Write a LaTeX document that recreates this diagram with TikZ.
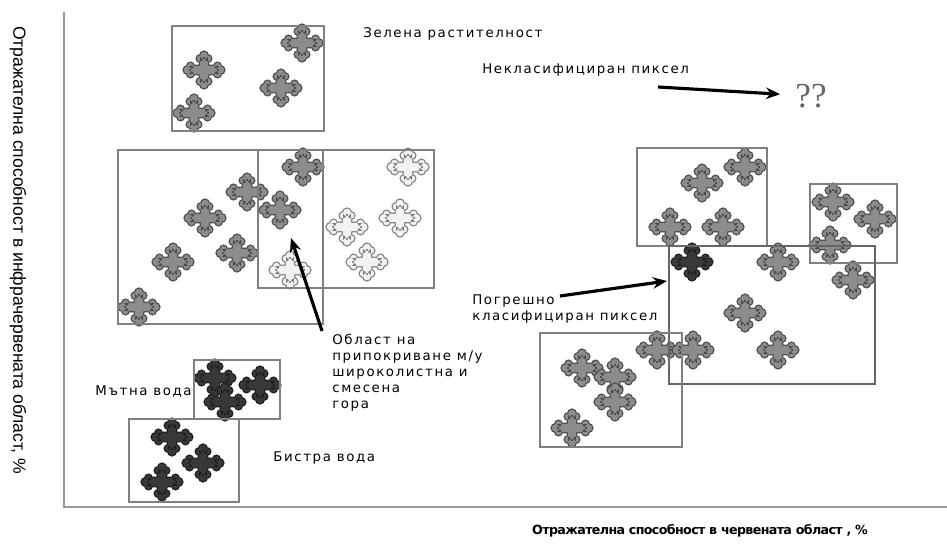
\documentclass[tikz,border=0pt]{standalone}
\usepackage{fontspec}
\setmainfont{DejaVu Sans}
\newfontfamily\lblfont[LetterSpace=12]{DejaVu Sans}
\newfontfamily\xaxfont[LetterSpace=-5]{DejaVu Sans}
\newfontfamily\axfont{Liberation Sans}
\newfontfamily\qfont{Liberation Serif}
\usetikzlibrary{arrows.meta}

\definecolor{framegray}{gray}{0.5}
\definecolor{axisgray}{gray}{0.6}
\definecolor{midfill}{gray}{0.55}
\definecolor{midedge}{gray}{0.3}
\definecolor{palefill}{gray}{0.95}
\definecolor{paleedge}{gray}{0.5}
\definecolor{darkfill}{gray}{0.22}
\definecolor{darkedge}{gray}{0.12}

% cross with trefoil ends (in picture units)
\newcommand\fleury{(-15,-4.2) rectangle (15,4.2) (-4.2,-13) rectangle (4.2,13)
	(16.5,0) circle (3.8) (13.5,-4) circle (3.2) (13.5,4) circle (3.2)
	(-16.5,0) circle (3.8) (-13.5,-4) circle (3.2) (-13.5,4) circle (3.2)
	(0,-14.5) circle (3.8) (-4,-11.5) circle (3.2) (4,-11.5) circle (3.2)
	(0,14.5) circle (3.8) (-4,11.5) circle (3.2) (4,11.5) circle (3.2)}

\tikzset{
	pics/cross/.style n args={3}{code={
		\filldraw[fill=#2, draw=#2, line width=#3] \fleury;
		\fill[#1] \fleury;
	}},
	box/.style={draw=framegray, line width=1.2pt},
	lbl/.style={font=\lblfont\fontsize{7.6}{9}\selectfont, inner sep=0pt, align=left},
	arr/.style={-{Stealth[length=8pt, width=6.5pt]}, line width=1.8pt},
}

\begin{document}
\begin{tikzpicture}[x=0.02cm, y=-0.02cm]
	\useasboundingbox (0,0) rectangle (947,547);
	% axes
	\draw[axisgray, line width=1.4pt] (64,12) -- (64,507) -- (947,507);
	\node[font=\axfont\fontsize{10}{12}\selectfont, rotate=-90, inner sep=0pt] (ylab) at (18,250) {Отражателна способност в инфрачервената област, \%};
	\node[font=\xaxfont\bfseries\fontsize{7.2}{8}\selectfont, inner sep=0pt, anchor=base] (xlab) at (700,534) {Отражателна способност в червената област , \%};

	% classes
	\foreach \x/\y in {302/43, 204/70, 281/88, 194/113, 303/167, 247/192, 280/210, 205/218, 237/253, 173/262, 139/307,
		745/167, 702/183, 670/227, 723/227, 833/202, 875/219, 830/245, 778/262, 853/280, 745/313,
		657/350, 693/350, 778/350, 582/368, 615/377, 615/402, 572/428}
		\pic at (\x,\y) {cross={midfill}{midedge}{1.4pt}};
	\foreach \x/\y in {408/167, 347/227, 400/218, 367/262, 290/270}
		\pic at (\x,\y) {cross={palefill}{paleedge}{1.4pt}};
	\foreach \x/\y in {692/262, 215/378, 260/385, 225/402, 172/437, 203/463, 162/482}
		\pic at (\x,\y) {cross={darkfill}{darkedge}{1.4pt}};

	\draw[box] (172,26) rectangle (324,131);
	\draw[box] (118,150) rectangle (323,324);
	\draw[box] (258,150) rectangle (434,288);
	\draw[box] (637,148) rectangle (767,246);
	\draw[box] (810,184) rectangle (897,263);
	\draw[box, draw=gray!80!black, line width=1.6pt] (669,246) rectangle (875,384);
	\draw[box] (540,333) rectangle (682,447);
	\draw[box] (194,360) rectangle (280,419);
	\draw[box] (129,419) rectangle (239,502);

	% labels
	\node[lbl, anchor=base west] (veg) at (363,38) {Зелена растителност};
	\node[lbl, anchor=base west] (uncl) at (482,74) {Некласифициран пиксел};
	\node[font=\qfont\fontsize{20}{20}\selectfont, text=gray!80!black, inner sep=0pt] (qq) at (811,96) {??};
	\node[lbl, anchor=base west] (miscl) at (472,320) {Погрешно\\класифициран пиксел};
	\node[lbl, anchor=base west] (ovl) at (332,408) {Област на\\припокриване м/у\\широколистна и\\смесена\\гора};
	\node[lbl, anchor=base east] (turbid) at (192,396) {Мътна вода};
	\node[lbl, anchor=base west] (clear) at (273,461) {Бистра вода};

	% arrows
	\coordinate (unclTail) at (658,87);
	\draw[arr, shorten >=8.5pt] (unclTail) -- (qq);
	\coordinate (ovlTail) at (322,331);
	\coordinate (ovlTip) at (291,238);
	\draw[arr] (ovlTail) -- (ovlTip);
	\coordinate (misclTail) at (560,296);
	\coordinate (misclTip) at (667,281);
	\draw[arr] (misclTail) -- (misclTip);
\end{tikzpicture}
\end{document}
